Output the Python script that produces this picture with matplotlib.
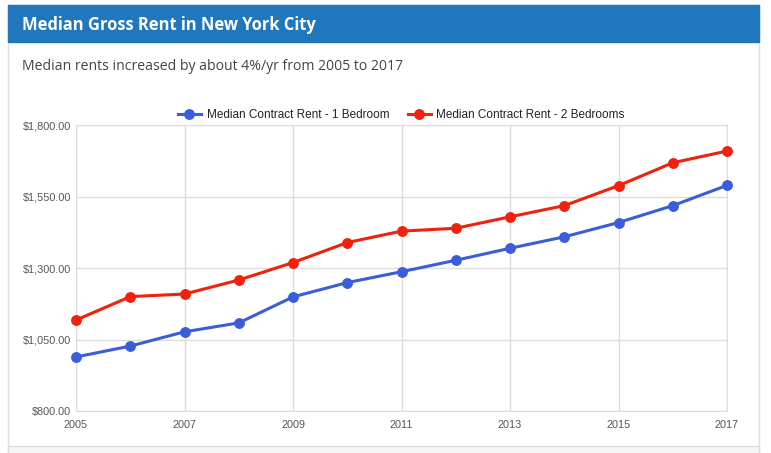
import matplotlib.pyplot as plt
import matplotlib.patches as mpatches
from matplotlib.ticker import FuncFormatter

years = list(range(2005, 2018))
one_bed = [990, 1028, 1078, 1109, 1200, 1250, 1288, 1328, 1370, 1410, 1460, 1519, 1590]
two_bed = [1119, 1201, 1210, 1259, 1320, 1390, 1430, 1440, 1480, 1519, 1589, 1669, 1710]
labels = ['Median Contract Rent - 1 Bedroom', 'Median Contract Rent - 2 Bedrooms']
colors = ['#3a5ddb', '#f0210d']
x_ticks = list(range(2005, 2018, 2))
y_ticks = [800, 1050, 1300, 1550, 1800]

W, H = 771, 453
fig = plt.figure(figsize=(W / 100, H / 100), dpi=100)
fig.patch.set_facecolor('white')

# card / panel drawn behind the axes
def box(x0, y0, x1, y1, **kw):
    fig.patches.append(mpatches.Rectangle((x0 / W, 1 - y1 / H), (x1 - x0) / W, (y1 - y0) / H,
                                          transform=fig.transFigure, zorder=-5, **kw))

box(7.5, 5, 758.5, 460, facecolor='white', edgecolor='#dddddd', linewidth=1)
box(7.5, 5, 758.5, 42, facecolor='#2077bd', edgecolor='#2077bd', linewidth=1)
box(7.5, 446, 758.5, 460, facecolor='#f5f5f5', edgecolor='#dddddd', linewidth=1)

fig.text(22 / W, 1 - 24.5 / H, 'Median Gross Rent in New York City', color='white',
         fontsize=11.9, fontweight='bold', family='Open Sans', va='center', ha='left')
fig.text(22 / W, 1 - 67 / H, 'Median rents increased by about 4%/yr from 2005 to 2017',
         color='#444444', fontsize=10.1, family='Open Sans', va='center', ha='left')

ax = fig.add_axes([76 / W, 1 - 411.3 / H, 651 / W, 286 / H], zorder=2)
ax.set_facecolor('none')
for vals, lab, c in zip([one_bed, two_bed], labels, colors):
    ax.plot(years, vals, color=c, lw=2.2, marker='o', ms=6.8, label=lab, clip_on=False, zorder=3)

ax.set_xlim(2005, 2017)
ax.set_ylim(800, 1800)
ax.set_xticks(x_ticks)
ax.set_yticks(y_ticks)
ax.yaxis.set_major_formatter(FuncFormatter(lambda v, p: f'${v:,.2f}'))
ax.grid(True, color='#dddddd', lw=1)
ax.set_axisbelow(True)
for s in ax.spines.values():
    s.set_color('#dddddd')
ax.tick_params(length=0, labelsize=7.8, labelcolor='#555555', labelfontfamily='Liberation Sans')
ax.tick_params(axis='x', pad=6)
ax.tick_params(axis='y', pad=3.5)

ax.legend(loc='center', bbox_to_anchor=(0.5, 1 + 10.5 / 286), ncols=2, frameon=False,
          prop={'family': 'Liberation Sans', 'size': 8.5}, handlelength=1.9,
          columnspacing=1.6, handletextpad=0.5, borderpad=0, labelcolor='#222222')

plt.savefig('out.png', dpi=100)
